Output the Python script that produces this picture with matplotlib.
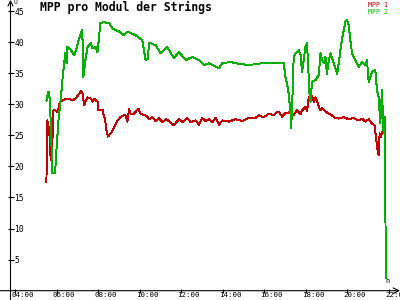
import matplotlib
matplotlib.use('Agg')
import matplotlib.pyplot as plt
import matplotlib.transforms as mtransforms

RED = '#c00000'
GREEN = '#00b000'
MONO = 'DejaVu Sans Mono'

# time in decimal hours, values in V
mpp1_t = [5.50, 5.51, 5.55, 5.60, 5.64, 5.68, 5.73, 5.79, 5.83, 5.92,
          6.03, 6.08, 6.15, 6.27, 6.44, 6.60, 6.76, 6.89, 7.04, 7.16,
          7.24, 7.32, 7.40, 7.48, 7.64, 7.72, 7.80, 7.88, 7.96, 8.01,
          8.12, 8.20, 8.28, 8.33, 8.39, 8.46, 8.60, 8.76, 8.92, 9.09,
          9.24, 9.32, 9.40, 9.48, 9.56, 9.72, 9.93, 10.04, 10.20, 10.36,
          10.44, 10.60, 10.76, 10.92, 11.08, 11.25, 11.40, 11.64, 11.88, 12.04,
          12.28, 12.45, 12.69, 12.85, 13.00, 13.17, 13.33, 13.49, 13.65, 13.81,
          13.97, 14.29, 14.61, 14.93, 15.25, 15.57, 15.73, 15.97, 16.21, 16.45,
          16.61, 16.69, 16.85, 17.01, 17.17, 17.25, 17.41, 17.57, 17.74, 17.81,
          17.98, 18.05, 18.13, 18.22, 18.29, 18.38, 18.46, 18.53, 18.62, 18.70,
          18.77, 18.94, 19.10, 19.25, 19.42, 19.58, 19.82, 20.06, 20.30, 20.54,
          20.70, 20.86, 21.02, 21.18, 21.31, 21.37, 21.45, 21.50, 21.55, 21.61,
          21.66, 21.82]
mpp1_v = [17.5, 19.9, 27.4, 25.0, 26.3, 22.0, 21.0, 24.2, 29.0, 29.0,
          28.8, 29.3, 30.4, 30.6, 30.9, 30.9, 30.6, 30.9, 31.5, 32.1,
          31.7, 29.8, 30.6, 31.1, 30.9, 30.4, 30.9, 30.6, 30.4, 29.0,
          29.0, 29.1, 28.0, 27.4, 25.8, 24.8, 25.3, 26.3, 27.4, 28.0,
          28.2, 28.2, 27.2, 29.3, 28.4, 28.5, 29.3, 28.4, 28.3, 28.0,
          27.6, 27.9, 27.3, 27.8, 27.1, 27.6, 27.3, 26.6, 27.6, 27.1,
          27.8, 27.1, 27.4, 26.7, 27.8, 27.3, 27.6, 27.1, 27.8, 26.7,
          27.4, 27.2, 27.6, 27.3, 27.8, 27.8, 28.2, 27.9, 28.5, 28.2,
          28.8, 28.8, 28.0, 28.6, 28.6, 29.0, 28.3, 29.0, 28.4, 29.0,
          29.6, 28.9, 30.9, 31.7, 31.3, 30.4, 31.1, 30.6, 29.6, 29.0,
          29.4, 28.8, 28.5, 28.2, 27.8, 27.7, 27.9, 27.6, 27.8, 27.4,
          27.7, 27.2, 27.6, 26.9, 26.6, 24.7, 22.6, 21.8, 25.3, 24.7,
          25.5, 26.1]

mpp2_t = [5.50, 5.60, 5.67, 5.79, 5.92, 5.96, 6.08, 6.20, 6.27, 6.37,
          6.40, 6.47, 6.51, 6.68, 6.84, 6.92, 7.08, 7.21, 7.24, 7.28,
          7.32, 7.40, 7.48, 7.64, 7.72, 7.88, 7.96, 8.04, 8.09, 8.28,
          8.44, 8.52, 8.68, 9.00, 9.24, 9.40, 9.80, 10.12, 10.28, 10.39,
          10.44, 10.76, 11.00, 11.32, 11.64, 11.88, 12.21, 12.52, 12.85, 13.09,
          13.33, 13.81, 13.97, 14.37, 14.61, 15.25, 15.89, 16.21, 16.53, 16.93,
          17.01, 17.14, 17.25, 17.28, 17.33, 17.41, 17.50, 17.65, 17.74, 17.81,
          17.89, 17.98, 18.05, 18.10, 18.17, 18.22, 18.29, 18.46, 18.62, 18.70,
          18.77, 18.86, 18.94, 19.01, 19.10, 19.18, 19.34, 19.42, 19.50, 19.58,
          19.66, 19.74, 19.82, 19.90, 19.98, 20.06, 20.14, 20.22, 20.38, 20.54,
          20.70, 20.86, 20.94, 21.02, 21.18, 21.34, 21.42, 21.50, 21.58, 21.66,
          21.74, 21.79, 21.82, 21.85]
mpp2_v = [30.6, 32.0, 30.6, 18.9, 18.9, 21.5, 27.4, 31.2, 33.9, 37.1,
          38.2, 36.6, 39.2, 38.7, 37.9, 38.7, 40.6, 41.9, 40.3, 34.4,
          35.5, 37.6, 39.2, 39.8, 39.0, 39.2, 38.4, 40.9, 43.0, 43.3,
          43.0, 43.1, 42.2, 41.7, 41.1, 41.7, 41.1, 40.3, 37.1, 37.3,
          39.9, 39.5, 38.2, 39.2, 37.4, 38.4, 37.1, 37.6, 37.1, 36.3,
          36.6, 35.8, 36.6, 36.8, 36.6, 36.3, 36.6, 36.6, 36.6, 36.7,
          34.4, 32.5, 29.0, 26.1, 29.0, 37.6, 38.2, 38.7, 38.0, 35.2,
          37.1, 39.3, 39.8, 36.6, 31.7, 30.4, 33.6, 33.9, 34.7, 38.2,
          37.3, 36.6, 37.6, 34.9, 37.1, 38.2, 36.6, 35.8, 34.9, 36.6,
          38.7, 40.6, 41.9, 43.3, 43.5, 42.7, 40.3, 38.2, 37.1, 36.0,
          36.8, 36.3, 37.1, 33.6, 35.2, 35.5, 32.3, 31.2, 26.9, 32.3,
          25.3, 28.0, 16.1, 2.0]

x_ticks = [4, 6, 8, 10, 12, 14, 16, 18, 20, 22]
x_labels = ['%02d:00' % h for h in x_ticks]
y_ticks = [5, 10, 15, 20, 25, 30, 35, 40, 45]

fig = plt.figure(figsize=(4, 3), dpi=100)
fig.patch.set_facecolor('white')
# axes origin sits at pixel (10.5, 290.7), plot area runs to top/right edge
ax = fig.add_axes([10.5/400, 9.3/300, 389.5/400, 290.7/300])
ax.set_xlim(3.77, 22.53)
ax.set_ylim(0, 46.77)
for s in ax.spines.values():
    s.set_visible(False)

ax.plot(mpp1_t, mpp1_v, color=RED, lw=0.7, antialiased=False)
ax.plot(mpp2_t, mpp2_v, color=GREEN, lw=0.7, antialiased=False)

# axis lines with arrows
ax.annotate('', xy=(0, 1.0), xytext=(0, -0.032), xycoords='axes fraction',
            arrowprops=dict(arrowstyle='->,head_length=0.35,head_width=0.18',
                            lw=0.8, color='black', shrinkA=0, shrinkB=0),
            annotation_clip=False)
ax.annotate('', xy=(1.0, 0), xytext=(-0.027, 0), xycoords='axes fraction',
            arrowprops=dict(arrowstyle='->,head_length=0.4,head_width=0.2',
                            lw=0.8, color='black', shrinkA=0, shrinkB=0),
            annotation_clip=False)

ax.set_xticks(x_ticks)
ax.set_xticklabels(x_labels, family=MONO, fontsize=5.4)
ax.set_yticks(y_ticks)
ax.set_yticklabels([str(v) for v in y_ticks], family=MONO, fontsize=5.8)
ax.tick_params(axis='x', direction='inout', length=3.2, width=0.8, pad=0.0)
ax.tick_params(axis='y', direction='inout', length=4.3, width=0.8, pad=-5.0)
shift = mtransforms.ScaledTranslation(-4/100, 0.6/100, fig.dpi_scale_trans)
for lab in ax.get_xticklabels():
    lab.set_horizontalalignment('left')
    lab.set_transform(lab.get_transform() + shift)
for lab in ax.get_yticklabels():
    lab.set_horizontalalignment('left')

fig.text(40/400, 1 - 11/300, 'MPP pro Modul der Strings', family=MONO,
         fontsize=8.3, fontweight='bold', va='baseline')
fig.text(388/400, 1 - 6.7/300, 'MPP 1', color=RED, family=MONO,
         fontsize=4.8, ha='right', va='baseline')
fig.text(388/400, 1 - 14/300, 'MPP 2', color=GREEN, family=MONO,
         fontsize=4.8, ha='right', va='baseline')
fig.text(13/400, 1 - 2.5/300, 'U', family=MONO, fontsize=4.5, va='center')
fig.text(385/400, 1 - 283/300, 'h', family=MONO, fontsize=5, va='baseline')

fig.savefig('out.png', dpi=100)
